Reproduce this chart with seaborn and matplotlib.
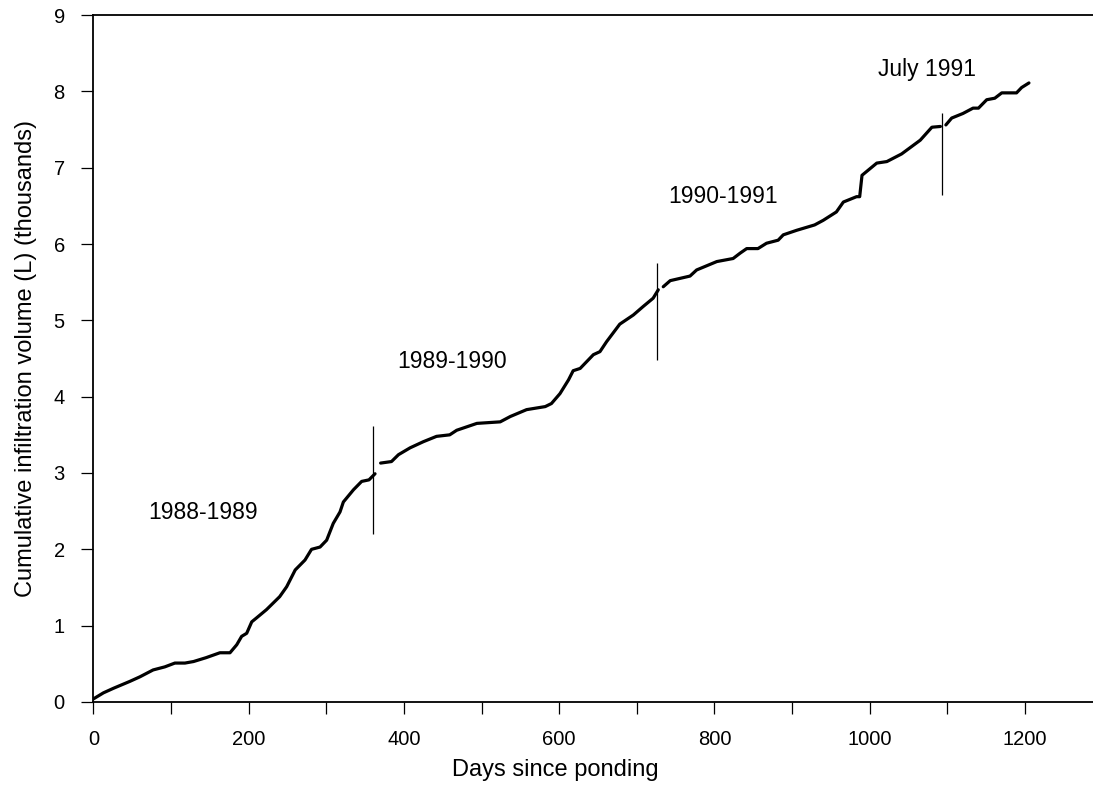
import matplotlib
matplotlib.use("Agg")
import matplotlib.pyplot as plt
import seaborn as sns
import pandas as pd

# Cumulative infiltration record, one list pair per season
season1_days = [0, 13, 26, 47, 60, 77, 92, 105, 118, 129, 145, 163, 176, 184.7, 191,
                197.5, 204, 210, 223, 240, 249, 260, 272.6, 281, 292, 300.5, 309,
                317.7, 322, 335, 345.6, 355, 362.8]
season1_vol = [0.04, 0.12, 0.18, 0.27, 0.33, 0.42, 0.46, 0.51, 0.51, 0.53, 0.58, 0.645,
               0.645, 0.75, 0.86, 0.90, 1.05, 1.10, 1.21, 1.38, 1.51, 1.73, 1.86, 2.00,
               2.03, 2.12, 2.34, 2.49, 2.62, 2.78, 2.89, 2.91, 2.99]

season2_days = [370, 384, 393, 408, 425, 442, 459, 468, 494, 524, 537, 558, 582, 590,
                601, 612, 618, 627, 644, 652.5, 661, 678, 695.5, 708, 721, 727.6]
season2_vol = [3.13, 3.15, 3.24, 3.33, 3.41, 3.48, 3.50, 3.56, 3.65, 3.67, 3.74, 3.83,
               3.87, 3.91, 4.04, 4.22, 4.34, 4.37, 4.55, 4.59, 4.72, 4.95, 5.07, 5.18,
               5.29, 5.40]

season3_days = [734, 743, 768.5, 777, 803, 824, 833, 841.5, 856, 867, 882, 888.6, 906,
                929, 940, 957, 966, 983, 987, 990, 1009, 1022, 1041, 1065, 1080, 1091]
season3_vol = [5.44, 5.52, 5.58, 5.66, 5.77, 5.81, 5.88, 5.94, 5.94, 6.01, 6.05, 6.12,
               6.18, 6.25, 6.31, 6.42, 6.55, 6.62, 6.62, 6.90, 7.06, 7.08, 7.18, 7.36,
               7.53, 7.54]

season4_days = [1098, 1105.5, 1120, 1133, 1140, 1150.6, 1161, 1170, 1189, 1195.6, 1205]
season4_vol = [7.56, 7.65, 7.71, 7.78, 7.78, 7.89, 7.91, 7.98, 7.98, 8.05, 8.11]

# Season boundary markers
boundary_days = [360.6, 725.5, 1092.6]
boundary_low = [2.20, 4.48, 6.64]
boundary_high = [3.61, 5.75, 7.71]

# Season labels
season_labels = ["1988-1989", "1989-1990", "1990-1991", "July 1991"]
label_days = [141, 462.6, 811, 1074]
label_vol = [2.48, 4.46, 6.62, 8.28]

sns.set_theme(style="ticks")
plt.rcParams["font.family"] = ["Liberation Sans", "DejaVu Sans"]

fig = plt.figure(figsize=(10.93, 7.90), dpi=100)
ax = fig.add_axes([0.0854, 0.1114, 0.9146, 0.8696])

segments = [(season1_days, season1_vol), (season2_days, season2_vol),
            (season3_days, season3_vol), (season4_days, season4_vol)]
for d, v in segments:
    df = pd.DataFrame({"day": d, "vol": v})
    sns.lineplot(data=df, x="day", y="vol", ax=ax, color="black", linewidth=2.3,
                 estimator=None, sort=False)

ax.vlines(boundary_days, boundary_low, boundary_high, color="black", linewidth=0.9)

for txt, xd, yv in zip(season_labels, label_days, label_vol):
    ax.text(xd, yv, txt, ha="center", va="center", fontsize=16.5, color="black")

ax.set_xlim(0, 1287.5)
ax.set_ylim(0, 9)
ax.set_xticks(range(0, 1201, 200))
ax.set_xticks(range(100, 1201, 200), minor=True)
ax.set_yticks(range(0, 10))

ax.tick_params(axis="both", which="both", direction="out", length=8.5, width=0.9,
               color="black", pad=12, labelsize=14.5, labelcolor="black")

for side in ["left", "top", "bottom"]:
    ax.spines[side].set_color("black")
    ax.spines[side].set_linewidth(1.3)
ax.spines["right"].set_visible(False)

ax.set_xlabel("Days since ponding", fontsize=17, color="black")
ax.set_ylabel("Cumulative infiltration volume (L) (thousands)", fontsize=17, color="black")
ax.xaxis.set_label_coords(0.462, -0.083)
ax.yaxis.set_label_coords(-0.056, 0.5)

fig.savefig("out.png", dpi=100)
